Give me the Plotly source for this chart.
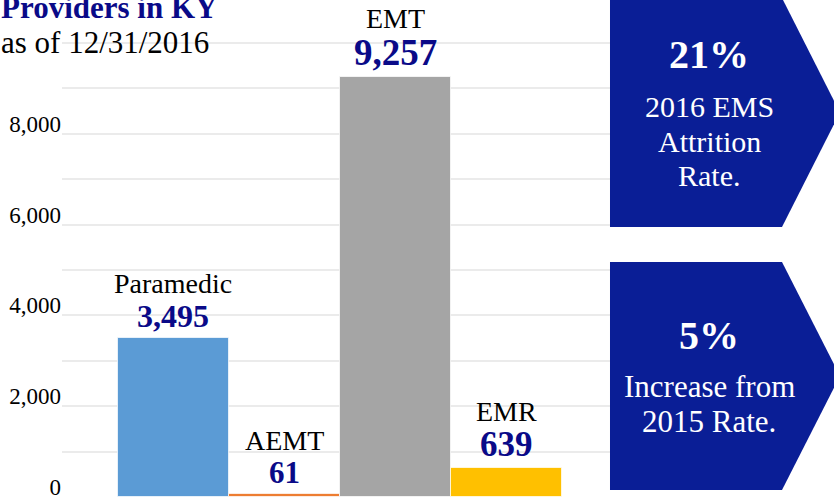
import plotly.graph_objects as go

# ---- data ----
categories = ["Paramedic", "AEMT", "EMT", "EMR"]
values = [3495, 61, 9257, 639]
value_labels = ["3,495", "61", "9,257", "639"]
bar_colors = ["#5b9bd5", "#ed7d31", "#a5a5a5", "#ffc000"]
tick_values = [0, 2000, 4000, 6000, 8000]
tick_labels = ["0", "2,000", "4,000", "6,000", "8,000"]
minor_grid_values = [1000, 3000, 5000, 7000, 9000, 10000]

title_line1 = "Providers in KY"
title_line2 = "as of 12/31/2016"
box1_big = "21%"
box1_lines = ["2016 EMS", "Attrition", "Rate."]
box2_big = "5%"
box2_lines = ["Increase from", "2015 Rate."]

# ---- style ----
W, H = 834, 501
SERIF = "Liberation Serif, Times New Roman, serif"
NAVY = "#0a0a88"
BOX = "#0a1e96"
value_font_sizes = [32, 31, 37, 35]


def px(x):
    return x / W


def py(y):
    return 1 - y / H


fig = go.Figure()
fig.add_trace(go.Bar(
    x=categories,
    y=values,
    marker=dict(color=bar_colors, line=dict(color="rgba(255,255,255,0.7)", width=1)),
    width=1.0,
    hoverinfo="x+y",
))

annotations = []
# bar name + value labels
for cat, val, lab, fs in zip(categories, values, value_labels, value_font_sizes):
    annotations.append(dict(
        x=cat, y=val, xref="x", yref="y", text=f"<b>{lab}</b>",
        showarrow=False, yanchor="bottom", xanchor="center", yshift=2,
        font=dict(family=SERIF, size=fs, color=NAVY),
    ))
    annotations.append(dict(
        x=cat, y=val, xref="x", yref="y", text=cat,
        showarrow=False, yanchor="bottom", xanchor="center", yshift=37 + (fs - 32) * 0.8,
        font=dict(family=SERIF, size=28, color="black"),
    ))

# titles
annotations.append(dict(
    x=px(-1), y=py(18 - 0.3375 * 31), xref="paper", yref="paper", text=f"<b>{title_line1}</b>",
    showarrow=False, xanchor="left", yanchor="middle",
    font=dict(family=SERIF, size=31, color=NAVY),
))
annotations.append(dict(
    x=px(-1), y=py(53 - 0.3375 * 31), xref="paper", yref="paper", text=title_line2,
    showarrow=False, xanchor="left", yanchor="middle",
    font=dict(family=SERIF, size=31, color="black"),
))

# chevron boxes
shapes = []
for top, bot in [(-2, 227), (262, 490)]:
    mid = (top + bot) / 2
    pts = [(610, top), (782, top), (840, mid), (782, bot), (610, bot)]
    path = "M " + " L ".join(f"{px(x):.5f},{py(y):.5f}" for x, y in pts) + " Z"
    shapes.append(dict(type="path", path=path, xref="paper", yref="paper",
                       fillcolor=BOX, line=dict(width=0), layer="above"))

cx = 709
annotations.append(dict(x=px(cx), y=py(68 - 0.3375 * 40), xref="paper", yref="paper",
                        text=f"<b>{box1_big}</b>", showarrow=False, xanchor="center", yanchor="middle",
                        font=dict(family=SERIF, size=40, color="white")))
for line, base in zip(box1_lines, [117, 152, 186]):
    annotations.append(dict(x=px(cx), y=py(base - 0.3375 * 30), xref="paper", yref="paper",
                            text=line, showarrow=False, xanchor="center", yanchor="middle",
                            font=dict(family=SERIF, size=30, color="white")))
annotations.append(dict(x=px(cx), y=py(349 - 0.3375 * 40), xref="paper", yref="paper",
                        text=f"<b>{box2_big}</b>", showarrow=False, xanchor="center", yanchor="middle",
                        font=dict(family=SERIF, size=40, color="white")))
for line, base in zip(box2_lines, [397, 432]):
    annotations.append(dict(x=px(cx), y=py(base - 0.3375 * 31), xref="paper", yref="paper",
                            text=line, showarrow=False, xanchor="center", yanchor="middle",
                            font=dict(family=SERIF, size=31, color="white")))

fig.update_layout(
    width=W, height=H,
    margin=dict(l=0, r=0, t=0, b=0),
    paper_bgcolor="white", plot_bgcolor="white",
    showlegend=False,
    bargap=0,
    xaxis=dict(domain=[px(62), px(618)], range=[-1, 4], showticklabels=False,
               showgrid=False, zeroline=False, showline=False, fixedrange=True),
    yaxis=dict(domain=[4 / H, 1], range=[0, 10947], tickmode="array",
               tickvals=tick_values, ticktext=tick_labels,
               showgrid=True, gridcolor="#ebebeb", gridwidth=1.5, zeroline=False,
               showline=False, ticks="", ticklabelshift=-10, ticklabelstandoff=0,
               tickfont=dict(family=SERIF, size=23, color="black"),
               minor=dict(tickmode="array", tickvals=minor_grid_values, showgrid=True,
                          gridcolor="#ebebeb", gridwidth=1.5, ticks=""),
               automargin=False),
    annotations=annotations,
    shapes=shapes,
)

fig.write_html(
    "out.html",
    config={"displayModeBar": False},
    post_script="document.body.style.margin='0';document.body.style.overflow='hidden';",
)
